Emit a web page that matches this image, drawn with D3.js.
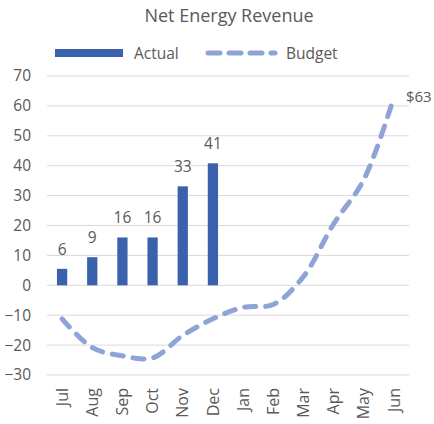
<!DOCTYPE html>
<html>
<head>
<meta charset="utf-8">
<script src="https://cdn.jsdelivr.net/npm/d3@7"></script>
<style>
  body { margin: 0; background: #fff; }
  text { font-family: "Open Sans", "Noto Sans", sans-serif; fill: #595959; }
</style>
</head>
<body>
<div id="chart"></div>
<script>
// chart values
const months = ["Jul", "Aug", "Sep", "Oct", "Nov", "Dec", "Jan", "Feb", "Mar", "Apr", "May", "Jun"];
const actual = [5.5, 9.4, 16.0, 16.0, 33.1, 40.8];
const actualLabels = ["6", "9", "16", "16", "33", "41"];
const budget = [-11.2, -20.8, -23.6, -24.3, -16.8, -11.2, -7.4, -6.4, 2.9, 20.5, 35.3, 62.9];
const yTicks = [-30, -20, -10, 0, 10, 20, 30, 40, 50, 60, 70];

const width = 434, height = 424;
const margin = {left: 47, right: 25, top: 76, bottom: 49};

const svg = d3.select("#chart").append("svg")
    .attr("width", width)
    .attr("height", height);

const x = d3.scaleBand()
    .domain(months)
    .range([margin.left, width - margin.right])
    .paddingInner(0.66)
    .paddingOuter(0.33);

const y = d3.scaleLinear()
    .domain([-30, 70])
    .range([height - margin.bottom, margin.top]);

const cx = m => x(m) + x.bandwidth() / 2;

// title
svg.append("text")
    .attr("x", 229)
    .attr("y", 22)
    .attr("text-anchor", "middle")
    .style("font-size", "18px")
    .text("Net Energy Revenue");

// gridlines
svg.append("g")
    .selectAll("line")
    .data(yTicks)
    .enter()
    .append("line")
    .attr("x1", margin.left)
    .attr("x2", width - margin.right)
    .attr("y1", d => y(d))
    .attr("y2", d => y(d))
    .attr("stroke", "#d9d9d9")
    .attr("stroke-width", 1);

// y axis labels
const yAxis = svg.append("g")
    .attr("transform", "translate(" + (margin.left - 16) + ",0)")
    .call(d3.axisLeft(y).tickValues(yTicks).tickSize(0).tickPadding(0));
yAxis.select(".domain").remove();
yAxis.selectAll("text")
    .style("font-size", "15.5px")
    .style("font-family", null)
    .attr("fill", null);

// x axis labels
const xAxis = svg.append("g")
    .attr("transform", "translate(0," + (y(-30) + 13) + ")")
    .call(d3.axisBottom(x).tickSize(0).tickPadding(0));
xAxis.select(".domain").remove();
xAxis.selectAll("text")
    .attr("transform", "rotate(-90)")
    .attr("text-anchor", "end")
    .attr("x", 0)
    .attr("y", 0)
    .attr("dy", "0.35em")
    .style("font-size", "16px")
    .style("font-family", null)
    .attr("fill", null);

// actual bars
svg.append("g")
    .selectAll("rect")
    .data(actual)
    .enter()
    .append("rect")
    .attr("x", (d, i) => x(months[i]))
    .attr("y", d => y(d))
    .attr("width", x.bandwidth())
    .attr("height", d => y(0) - y(d))
    .attr("fill", "#3a62ac");

svg.append("g")
    .selectAll("text")
    .data(actual)
    .enter()
    .append("text")
    .attr("x", (d, i) => cx(months[i]))
    .attr("y", d => y(d) - 14)
    .attr("text-anchor", "middle")
    .style("font-size", "15.5px")
    .text((d, i) => actualLabels[i]);

// budget line
const line = d3.line()
    .x((d, i) => cx(months[i]))
    .y(d => y(d))
    .curve(d3.curveCatmullRom.alpha(0.5));

svg.append("path")
    .datum(budget)
    .attr("d", line)
    .attr("fill", "none")
    .attr("stroke", "#8ea3d6")
    .attr("stroke-width", 5)
    .attr("stroke-linecap", "round")
    .attr("stroke-dasharray", "11,10");

svg.append("text")
    .attr("x", cx("Jun") + 12)
    .attr("y", y(budget[budget.length - 1]) + 5)
    .style("font-size", "15px")
    .text("$" + Math.round(budget[budget.length - 1]));

// legend
const lg = svg.append("g");
lg.append("rect")
    .attr("x", 55).attr("y", 49)
    .attr("width", 68).attr("height", 8)
    .attr("fill", "#3a62ac");
lg.append("text")
    .attr("x", 134).attr("y", 59)
    .style("font-size", "15.5px")
    .text("Actual");
lg.append("line")
    .attr("x1", 208).attr("x2", 275)
    .attr("y1", 53).attr("y2", 53)
    .attr("stroke", "#8ea3d6")
    .attr("stroke-width", 5)
    .attr("stroke-linecap", "round")
    .attr("stroke-dasharray", "12,9");
lg.append("text")
    .attr("x", 286).attr("y", 59)
    .style("font-size", "15.5px")
    .text("Budget");
</script>
</body>
</html>
